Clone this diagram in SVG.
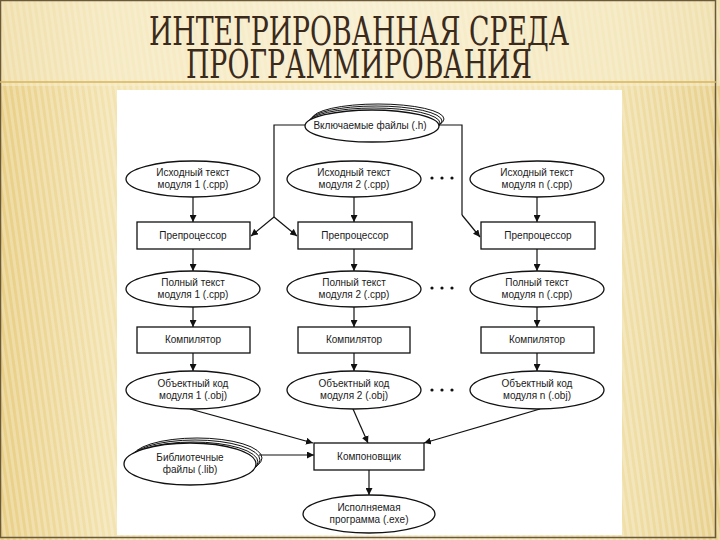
<svg xmlns="http://www.w3.org/2000/svg" width="720" height="540" viewBox="0 0 720 540">
<defs>
<linearGradient id="bg" x1="0" y1="0" x2="1" y2="0">
<stop offset="0" stop-color="#e9cf86"/>
<stop offset="0.15" stop-color="#f3e3b0"/>
<stop offset="0.5" stop-color="#f8eed0"/>
<stop offset="0.85" stop-color="#f1e1ac"/>
<stop offset="1" stop-color="#e8d08c"/>
</linearGradient>
<pattern id="stripes" width="6" height="540" patternUnits="userSpaceOnUse" patternTransform="skewX(8)">
<rect x="0" y="0" width="3" height="540" fill="#ffffff" opacity="0.25"/>
</pattern>
<marker id="ah" viewBox="0 0 10 10" refX="10" refY="5" markerWidth="7" markerHeight="7" markerUnits="userSpaceOnUse" orient="auto">
<path d="M0,0 L10,5 L0,10 z" fill="#111"/>
</marker>
</defs>
<style>
.t{font-family:"Liberation Sans",Arial,sans-serif;font-size:10px;fill:#1a1a1a;text-anchor:middle}
.ttl{font-family:"DejaVu Serif Condensed","Liberation Serif",serif;font-size:40px;fill:#3a2a1c;text-anchor:middle}
.n{fill:#fff;stroke:#111;stroke-width:1.3}
.bk{fill:none;stroke:#111;stroke-width:1}
.c{fill:none;stroke:#111;stroke-width:1.2}
.ca{fill:none;stroke:#111;stroke-width:1.2;marker-end:url(#ah)}
.d{fill:#111}
</style>
<rect x="0" y="0" width="720" height="540" fill="url(#bg)"/>
<rect x="0" y="0" width="720" height="540" fill="url(#stripes)"/>
<rect x="0" y="0" width="720" height="86" fill="#f8efd2" opacity="0.5"/>
<rect x="0.5" y="0.5" width="715" height="537" fill="none" stroke="#6b5a3a" stroke-width="1.5"/>
<line x1="0" y1="82" x2="716" y2="82" stroke="#d9b45a" stroke-width="1.5"/>
<g id="title">
<text class="ttl" x="359" y="45" textLength="420" lengthAdjust="spacingAndGlyphs">ИНТЕГРИРОВАННАЯ СРЕДА</text>
<text class="ttl" x="359" y="78" textLength="346" lengthAdjust="spacingAndGlyphs">ПРОГРАММИРОВАНИЯ</text>
</g>
<rect x="117" y="90" width="505" height="445" fill="#fff"/>
<g id="connectors">
<polyline class="c" points="305,125 274,125 274,217"/>
<line class="ca" x1="274" y1="217" x2="251" y2="236"/>
<line class="ca" x1="274" y1="217" x2="297" y2="236"/>
<polyline class="c" points="439,125 462,125 462,215"/>
<line class="ca" x1="462" y1="215" x2="480" y2="237"/>
<line class="ca" x1="193" y1="197" x2="193" y2="222"/>
<line class="ca" x1="354" y1="197" x2="354" y2="222"/>
<line class="ca" x1="537" y1="197" x2="537" y2="222"/>
<line class="ca" x1="193" y1="249" x2="193" y2="271"/>
<line class="ca" x1="354" y1="249" x2="354" y2="271"/>
<line class="ca" x1="537" y1="249" x2="537" y2="271"/>
<line class="ca" x1="193" y1="307" x2="193" y2="327"/>
<line class="ca" x1="354" y1="307" x2="354" y2="327"/>
<line class="ca" x1="537" y1="307" x2="537" y2="327"/>
<line class="ca" x1="193" y1="353" x2="193" y2="371"/>
<line class="ca" x1="354" y1="353" x2="354" y2="371"/>
<line class="ca" x1="537" y1="353" x2="537" y2="371"/>
<line class="ca" x1="190" y1="409" x2="313" y2="443"/>
<line class="ca" x1="353" y1="409" x2="368" y2="443"/>
<line class="ca" x1="540" y1="409" x2="424" y2="443"/>
<line class="ca" x1="259" y1="455" x2="314" y2="455"/>
<line class="ca" x1="369" y1="470" x2="369" y2="495"/>
</g>
<g id="include">
<ellipse class="bk" cx="378" cy="119" rx="66" ry="15"/>
<ellipse class="bk" cx="376" cy="121" rx="66" ry="15"/>
<ellipse class="bk" cx="374" cy="123" rx="66" ry="15"/>
<ellipse class="n" cx="372" cy="126" rx="67" ry="16"/>
<text class="t" x="370" y="129">Включаемые файлы (.h)</text>
</g>
<g id="src1"><ellipse class="n" cx="193" cy="179" rx="67" ry="18"/><text class="t" x="193" y="176">Исходный текст</text><text class="t" x="193" y="188">модуля 1 (.cpp)</text></g>
<g id="src2"><ellipse class="n" cx="354" cy="179" rx="67" ry="18"/><text class="t" x="354" y="176">Исходный текст</text><text class="t" x="354" y="188">модуля 2 (.cpp)</text></g>
<g id="srcn"><ellipse class="n" cx="537" cy="179" rx="67" ry="18"/><text class="t" x="537" y="176">Исходный текст</text><text class="t" x="537" y="188">модуля n (.cpp)</text></g>
<g id="pp1"><rect class="n" x="137" y="222" width="113" height="27"/><text class="t" x="193" y="239">Препроцессор</text></g>
<g id="pp2"><rect class="n" x="298" y="222" width="114" height="27"/><text class="t" x="355" y="239">Препроцессор</text></g>
<g id="ppn"><rect class="n" x="481" y="222" width="114" height="27"/><text class="t" x="538" y="239">Препроцессор</text></g>
<g id="full1"><ellipse class="n" cx="193" cy="289" rx="67" ry="18"/><text class="t" x="193" y="286">Полный текст</text><text class="t" x="193" y="298">модуля 1 (.cpp)</text></g>
<g id="full2"><ellipse class="n" cx="354" cy="289" rx="67" ry="18"/><text class="t" x="354" y="286">Полный текст</text><text class="t" x="354" y="298">модуля 2 (.cpp)</text></g>
<g id="fulln"><ellipse class="n" cx="537" cy="289" rx="67" ry="18"/><text class="t" x="537" y="286">Полный текст</text><text class="t" x="537" y="298">модуля n (.cpp)</text></g>
<g id="cc1"><rect class="n" x="137" y="327" width="113" height="26"/><text class="t" x="193" y="343">Компилятор</text></g>
<g id="cc2"><rect class="n" x="298" y="327" width="112" height="26"/><text class="t" x="354" y="343">Компилятор</text></g>
<g id="ccn"><rect class="n" x="481" y="327" width="113" height="26"/><text class="t" x="537" y="343">Компилятор</text></g>
<g id="obj1"><ellipse class="n" cx="193" cy="390" rx="67" ry="19"/><text class="t" x="193" y="387">Объектный код</text><text class="t" x="193" y="399">модуля 1 (.obj)</text></g>
<g id="obj2"><ellipse class="n" cx="354" cy="390" rx="67" ry="19"/><text class="t" x="354" y="387">Объектный код</text><text class="t" x="354" y="399">модуля 2 (.obj)</text></g>
<g id="objn"><ellipse class="n" cx="537" cy="390" rx="67" ry="19"/><text class="t" x="537" y="387">Объектный код</text><text class="t" x="537" y="399">модуля n (.obj)</text></g>
<g id="dots">
<circle class="d" cx="432" cy="178" r="1.6"/><circle class="d" cx="442" cy="178" r="1.6"/><circle class="d" cx="452" cy="178" r="1.6"/>
<circle class="d" cx="432" cy="288" r="1.6"/><circle class="d" cx="442" cy="288" r="1.6"/><circle class="d" cx="452" cy="288" r="1.6"/>
<circle class="d" cx="432" cy="390" r="1.6"/><circle class="d" cx="442" cy="390" r="1.6"/><circle class="d" cx="452" cy="390" r="1.6"/>
</g>
<g id="lib">
<ellipse class="bk" cx="197" cy="458" rx="65" ry="20"/>
<ellipse class="bk" cx="195" cy="460" rx="65" ry="20"/>
<ellipse class="bk" cx="193" cy="462" rx="65" ry="20"/>
<ellipse class="n" cx="190" cy="464" rx="66" ry="21"/>
<text class="t" x="190" y="461">Библиотечные</text><text class="t" x="190" y="473">файлы (.lib)</text>
</g>
<g id="linker"><rect class="n" x="314" y="443" width="110" height="27"/><text class="t" x="369" y="460">Компоновщик</text></g>
<g id="exe"><ellipse class="n" cx="369" cy="514" rx="66" ry="19"/><text class="t" x="369" y="511">Исполняемая</text><text class="t" x="369" y="523">программа (.exe)</text></g>
</svg>
